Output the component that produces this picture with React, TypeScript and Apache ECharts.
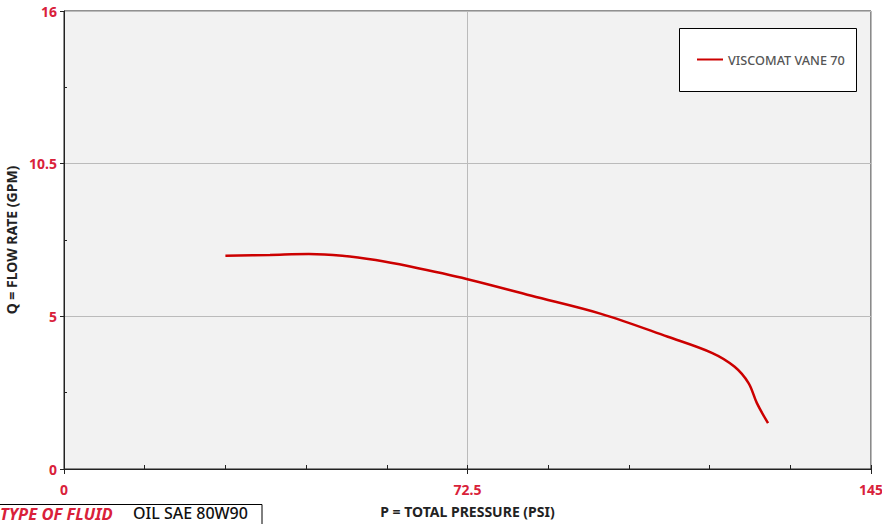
import React, { useEffect, useRef } from "react";
import * as echarts from "echarts";

const pressure = [29, 37, 44, 50, 56, 62, 72.5, 84, 96.5, 108.5, 116.5, 120.5, 123, 124.5, 126.5];
const flow = [7.45, 7.48, 7.51, 7.45, 7.3, 7.08, 6.63, 6.05, 5.42, 4.62, 4.05, 3.57, 3.0, 2.3, 1.6];
const yTickLabels = ["0", "5", "10.5", "16"];
const xTickLabels = ["0", "72.5", "145"];
const seriesName = "VISCOMAT VANE 70";

const RED = "#d9213a";
const FONT = "'Noto Sans', sans-serif";

export default function App() {
  const ref = useRef<HTMLDivElement>(null);
  useEffect(() => {
    if (!ref.current) return;
    const chart = echarts.init(ref.current, undefined, { renderer: "svg" });
    const data = pressure.map((p, i) => [p, flow[i]]);
    chart.setOption({
      animation: false,
      grid: {
        left: 64,
        right: 11,
        top: 11,
        bottom: 55,
        outerBoundsMode: "none",
        containLabel: false,
        show: true,
        backgroundColor: "#f2f2f2",
        borderColor: "#222",
        borderWidth: 1,
      },
      legend: {
        left: 697,
        top: 53,
        itemWidth: 26,
        itemHeight: 14,
        icon: "path://M0,6 L26,6 L26,8 L0,8 Z",
        padding: 0,
        data: [seriesName],
        textStyle: { color: "#555", fontSize: 12.7, fontFamily: FONT, fontWeight: 500 },
      },
      graphic: [
        {
          type: "rect",
          z: 0,
          shape: { x: 679.5, y: 28.5, width: 177, height: 63 },
          style: { fill: "#fff", stroke: "#000", lineWidth: 1 },
        },
        {
          type: "rect",
          shape: { x: -1, y: 504.5, width: 263, height: 40 },
          style: { fill: "#fff", stroke: "#000", lineWidth: 1 },
        },
        {
          type: "text",
          x: 0,
          y: 513,
          style: {
            text: "TYPE OF FLUID",
            fill: RED,
            font: `italic bold 16.5px ${FONT}`,
            verticalAlign: "middle",
          },
        },
        {
          type: "text",
          x: 133,
          y: 513,
          style: {
            text: "OIL SAE 80W90",
            fill: "#111",
            font: `500 16px ${FONT}`,
            verticalAlign: "middle",
          },
        },
      ],
      xAxis: [
        {
          type: "value",
          min: 0,
          max: 145,
          interval: 72.5,
          name: "P = TOTAL PRESSURE (PSI)",
          nameLocation: "middle",
          nameGap: 35,
          nameTextStyle: { color: "#222", fontSize: 14, fontWeight: "bold", fontFamily: FONT },
          axisLine: { lineStyle: { color: "#222", width: 1 } },
          axisTick: { show: true, length: 5, lineStyle: { color: "#222" } },
          axisLabel: {
            margin: 13,
            color: RED,
            fontSize: 14,
            fontWeight: "bold",
            fontFamily: FONT,
            formatter: (_v: number, i: number) => xTickLabels[i] ?? "",
          },
          splitLine: { show: true, lineStyle: { color: "#bbb", width: 1 } },
        },
        {
          type: "value",
          min: 0,
          max: 145,
          interval: 72.5,
          position: "bottom",
          axisLine: { show: false },
          axisLabel: { show: false },
          splitLine: { show: false },
          axisTick: { show: true, inside: true, length: 4, lineStyle: { color: "#222" } },
          minorTick: { show: true, splitNumber: 5, length: 4, lineStyle: { color: "#222" } },
        },
      ],
      yAxis: [
        {
          type: "value",
          min: 0,
          max: 16,
          interval: 16 / 3,
          position: "left",
          name: "Q = FLOW RATE (GPM)",
          nameLocation: "middle",
          nameRotate: 90,
          nameGap: 41,
          nameTextStyle: { color: "#222", fontSize: 14, fontWeight: "bold", fontFamily: FONT },
          axisLine: { show: true, lineStyle: { color: "#222", width: 1 } },
          axisTick: { show: true, length: 4, lineStyle: { color: "#222" } },
          axisLabel: {
            margin: 7,
            color: RED,
            fontSize: 14,
            fontWeight: "bold",
            fontFamily: FONT,
            formatter: (_v: number, i: number) => yTickLabels[i] ?? "",
          },
          splitLine: { show: true, lineStyle: { color: "#bbb", width: 1 } },
        },
        {
          type: "value",
          min: 0,
          max: 16,
          interval: 16 / 3,
          position: "left",
          axisLine: { show: false },
          axisLabel: { show: false },
          splitLine: { show: false },
          axisTick: { show: false, inside: true },
          minorTick: { show: true, splitNumber: 2, length: 3, lineStyle: { color: "#222" } },
        },
      ],
      series: [
        {
          name: seriesName,
          type: "line",
          xAxisIndex: 0,
          yAxisIndex: 0,
          data,
          smooth: 0.35,
          showSymbol: false,
          lineStyle: { color: "#cc0000", width: 2.5 },
          itemStyle: { color: "#cc0000" },
        },
      ],
    });
    return () => chart.dispose();
  }, []);
  return (
    <div
      ref={ref}
      style={{ position: "fixed", left: 0, top: 0, width: 882, height: 524, background: "#fff" }}
    />
  );
}
